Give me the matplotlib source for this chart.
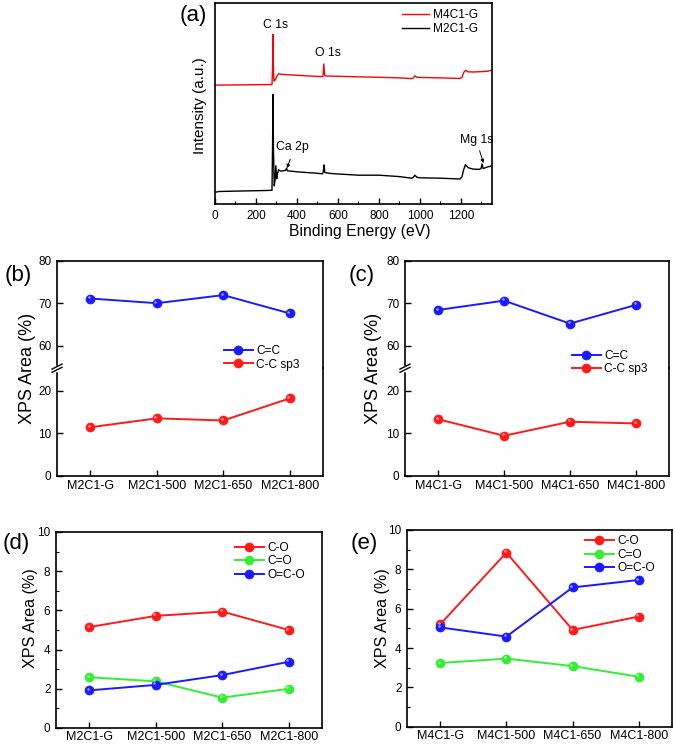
import numpy as np
import matplotlib
matplotlib.use("Agg")
import matplotlib.pyplot as plt
from matplotlib.lines import Line2D
from matplotlib.transforms import offset_copy

plt.rcParams['font.family'] = ['Liberation Sans', 'DejaVu Sans']

W, H = 675, 745

# (a) XPS survey spectra (binding energy in eV, intensity in arbitrary units)
e_m4 = [0, 100, 200, 278, 281, 283, 285, 288, 293, 300, 310, 330, 380, 450, 520,
        527, 531, 535, 540, 600, 700, 800, 900, 960, 968, 975, 985, 1000, 1100, 1195,
        1205, 1213, 1222, 1235, 1260, 1300, 1330, 1350]
i_m4 = [59.0, 59.1, 59.2, 59.3, 68.0, 84.2, 66.0, 61.0, 61.5, 63.0, 64.6, 64.3, 64.0, 63.6, 63.2,
        63.4, 69.5, 64.0, 63.5, 63.4, 63.1, 62.9, 62.6, 62.2, 62.6, 63.6, 62.9, 62.8, 62.6, 62.3,
        62.8, 65.2, 66.3, 65.6, 65.5, 65.7, 65.9, 66.4]
e_m2 = [0, 20, 60, 150, 250, 278, 281, 283, 285, 289, 293, 297, 301, 305, 310, 320, 335,
        345, 349, 353, 370, 420, 480, 525, 529, 532, 536, 560, 600, 700, 800, 900, 960,
        968, 975, 985, 1000, 1100, 1195, 1205, 1213, 1222, 1235, 1260, 1290, 1298, 1303,
        1308, 1330, 1350]
i_m2 = [5.8, 6.2, 6.3, 6.5, 6.7, 6.8, 30.0, 54.4, 28.0, 9.0, 12.0, 19.0, 12.5, 15.0, 17.0, 16.3, 16.5,
        16.8, 17.8, 16.5, 16.3, 15.8, 15.4, 15.0, 16.5, 19.4, 15.6, 15.2, 14.9, 14.3, 14.3, 13.6, 12.8,
        13.3, 14.3, 13.3, 13.0, 12.8, 12.4, 13.5, 17.0, 19.5, 18.0, 17.3, 17.2, 17.6, 19.9,
        17.6, 18.4, 18.9]

# (b)-(e) XPS peak areas (%)
samples_m2 = ["M2C1-G", "M2C1-500", "M2C1-650", "M2C1-800"]
samples_m4 = ["M4C1-G", "M4C1-500", "M4C1-650", "M4C1-800"]
cc_m2 = [71.1, 70.0, 71.9, 67.6]
sp3_m2 = [11.4, 13.5, 13.0, 18.2]
cc_m4 = [68.4, 70.6, 65.2, 69.6]
sp3_m4 = [13.3, 9.4, 12.7, 12.3]
co_m2 = [5.15, 5.72, 5.94, 5.0]
cdo_m2 = [2.59, 2.38, 1.55, 2.0]
oco_m2 = [1.92, 2.2, 2.7, 3.38]
co_m4 = [5.2, 8.85, 4.92, 5.6]
cdo_m4 = [3.24, 3.46, 3.08, 2.54]
oco_m4 = [5.05, 4.58, 7.08, 7.46]

RED, BLUE, GREEN = "#ff1a1a", "#1a1aff", "#33ee33"

fig = plt.figure(figsize=(W / 100, H / 100), dpi=100)


def fx(px):
    return px / W


def fy(py):
    return 1 - py / H


def add_ax(l, t, r, b):
    ax = fig.add_axes([l / W, 1 - b / H, (r - l) / W, (b - t) / H])
    ax.patch.set_facecolor('none')
    for s in ax.spines.values():
        s.set_linewidth(1.2)
    ax.tick_params(direction='in', length=4, width=1, labelsize=8.5, pad=4)
    ax.tick_params(which='minor', direction='in', length=2.5, width=0.8)
    return ax


def ball(ax, x, y, color, label):
    # coloured ball with a small highlight (shaded sphere look)
    line, = ax.plot(x, y, '-o', color=color, lw=1.4, ms=6.5, mec=color, mew=0.5,
                    label=label, zorder=3)
    ax.plot(x, y, 'o', ms=1.8, color='white', alpha=0.6, mew=0, zorder=4,
            transform=offset_copy(ax.transData, fig=fig, x=-1.4, y=1.4, units='dots'))
    return line


def panel_label(text, x, y):
    fig.text(fx(x), fy(y), text, fontsize=16, ha='center', va='center')


def legend(ax, handles, labels, x, y):
    leg = ax.legend(handles, labels, loc='center left',
                    bbox_to_anchor=(fx(x), fy(y)), bbox_transform=fig.transFigure,
                    frameon=False, fontsize=8.6, handlelength=2.4, handletextpad=0.3,
                    labelspacing=0.12, borderpad=0, borderaxespad=0, numpoints=1)
    leg.set_zorder(20)


# ---------------- (a) ----------------
axa = add_ax(215, 2.5, 491.7, 204)
la, = axa.plot(e_m4, i_m4, color='#ff0000', lw=1.0, label='M4C1-G')
lb, = axa.plot(e_m2, i_m2, color='black', lw=1.0, label='M2C1-G')
axa.set_xlim(0, 1350)
axa.set_ylim(0, 100)
axa.set_yticks([])
axa.set_xticks(np.arange(0, 1201, 200))
axa.set_xticks(np.arange(100, 1350, 200), minor=True)
axa.tick_params(axis='x', pad=4)
axa.set_xlabel('Binding Energy (eV)', fontsize=11.3)
axa.xaxis.set_label_coords(fx(360), fy(224), transform=fig.transFigure)
axa.set_ylabel('Intensity (a.u.)', fontsize=11)
axa.yaxis.set_label_coords(fx(207), fy(106), transform=fig.transFigure)
axa.text(297, 88.8, 'C 1s', fontsize=8.8, ha='center', va='center')
axa.text(551, 74.8, 'O 1s', fontsize=8.8, ha='center', va='center')
axa.text(377, 28.3, 'Ca 2p', fontsize=8.8, ha='center', va='center')
axa.text(1277, 31.8, 'Mg 1s', fontsize=8.8, ha='center', va='center')
arrow = dict(arrowstyle='-|>', lw=0.7, color='black', mutation_scale=5, shrinkA=0, shrinkB=0)
axa.annotate('', xy=(351, 17.8), xytext=(367, 22.2), arrowprops=arrow)
axa.annotate('', xy=(1310, 20.3), xytext=(1291, 26.4), arrowprops=arrow)
axa.legend([la, lb], ['M4C1-G', 'M2C1-G'], loc='center left',
           bbox_to_anchor=(fx(401.7), fy(22.2)), bbox_transform=fig.transFigure,
           frameon=False, fontsize=8.6, handlelength=2.25, handletextpad=0.4,
           labelspacing=0.12, borderpad=0, borderaxespad=0)
panel_label('(a)', 193, 15)


# ---------------- (b), (c) broken axes ----------------
def broken_panel(l, t, r, b, samples, cc, sp3, leg_x, leg_y, lab, lab_x, ylab_x):
    ym = (t + b) / 2
    up = add_ax(l, t, r, ym)
    lo = add_ax(l, ym, r, b)
    h1 = ball(up, samples, cc, BLUE, 'C=C')
    h2 = ball(lo, samples, sp3, RED, 'C-C sp3')
    up.set_ylim(54.7, 80)
    lo.set_ylim(0, 25.3)
    up.set_yticks([60, 70, 80])
    lo.set_yticks([0, 10, 20])
    for ax in (up, lo):
        ax.set_xlim(-0.5, 3.5)
    up.spines['bottom'].set_visible(False)
    lo.spines['top'].set_visible(False)
    up.tick_params(axis='x', bottom=False, labelbottom=False)
    lo.tick_params(axis='x', labelsize=9, pad=3)
    lo.set_ylabel('XPS Area (%)', fontsize=13)
    lo.yaxis.set_label_coords(fx(ylab_x), fy(368), transform=fig.transFigure)
    legend(lo, [h1, h2], ['C=C', 'C-C sp3'], leg_x, leg_y)
    # break marks on the left spine
    fig.add_artist(Line2D([fx(l), fx(l)], [fy(ym - 1.6), fy(ym + 1.6)],
                          transform=fig.transFigure, color='white', lw=2.5, zorder=10))
    for d in (-1.6, 1.6):
        fig.add_artist(Line2D([fx(l - 5), fx(l + 5)], [fy(ym + d + 2.5), fy(ym + d - 2.5)],
                              transform=fig.transFigure, color='black', lw=1.0, zorder=11))
    panel_label(lab, lab_x, 275)


broken_panel(57, 260.7, 323, 475.7, samples_m2, cc_m2, sp3_m2, 224, 357.9, '(b)', 18, 36)
broken_panel(405, 260.7, 669, 475.7, samples_m4, cc_m4, sp3_m4, 572, 362.5, '(c)', 362, 382)


# ---------------- (d), (e) ----------------
def oxygen_panel(l, t, r, b, samples, co, cdo, oco, leg_x, leg_y, lab, lab_x, ylab_x):
    ax = add_ax(l, t, r, b)
    h1 = ball(ax, samples, co, RED, 'C-O')
    h2 = ball(ax, samples, cdo, GREEN, 'C=O')
    h3 = ball(ax, samples, oco, BLUE, 'O=C-O')
    ax.set_xlim(-0.5, 3.5)
    ax.set_ylim(0, 10)
    ax.set_yticks(np.arange(0, 11, 2))
    ax.set_yticks(np.arange(1, 10, 2), minor=True)
    ax.tick_params(axis='x', labelsize=9, pad=2.5)
    ax.set_ylabel('XPS Area (%)', fontsize=11.6)
    ax.yaxis.set_label_coords(fx(ylab_x), fy(618), transform=fig.transFigure)
    legend(ax, [h1, h2, h3], ['C-O', 'C=O', 'O=C-O'], leg_x, leg_y)
    panel_label(lab, lab_x, 543)


oxygen_panel(56, 532, 322, 728, samples_m2, co_m2, cdo_m2, oco_m2, 235, 561.5, '(d)', 16, 38)
oxygen_panel(407, 530, 672, 726.7, samples_m4, co_m4, cdo_m4, oco_m4, 585, 554.8, '(e)', 364, 390)

fig.savefig('out.png', dpi=100)
